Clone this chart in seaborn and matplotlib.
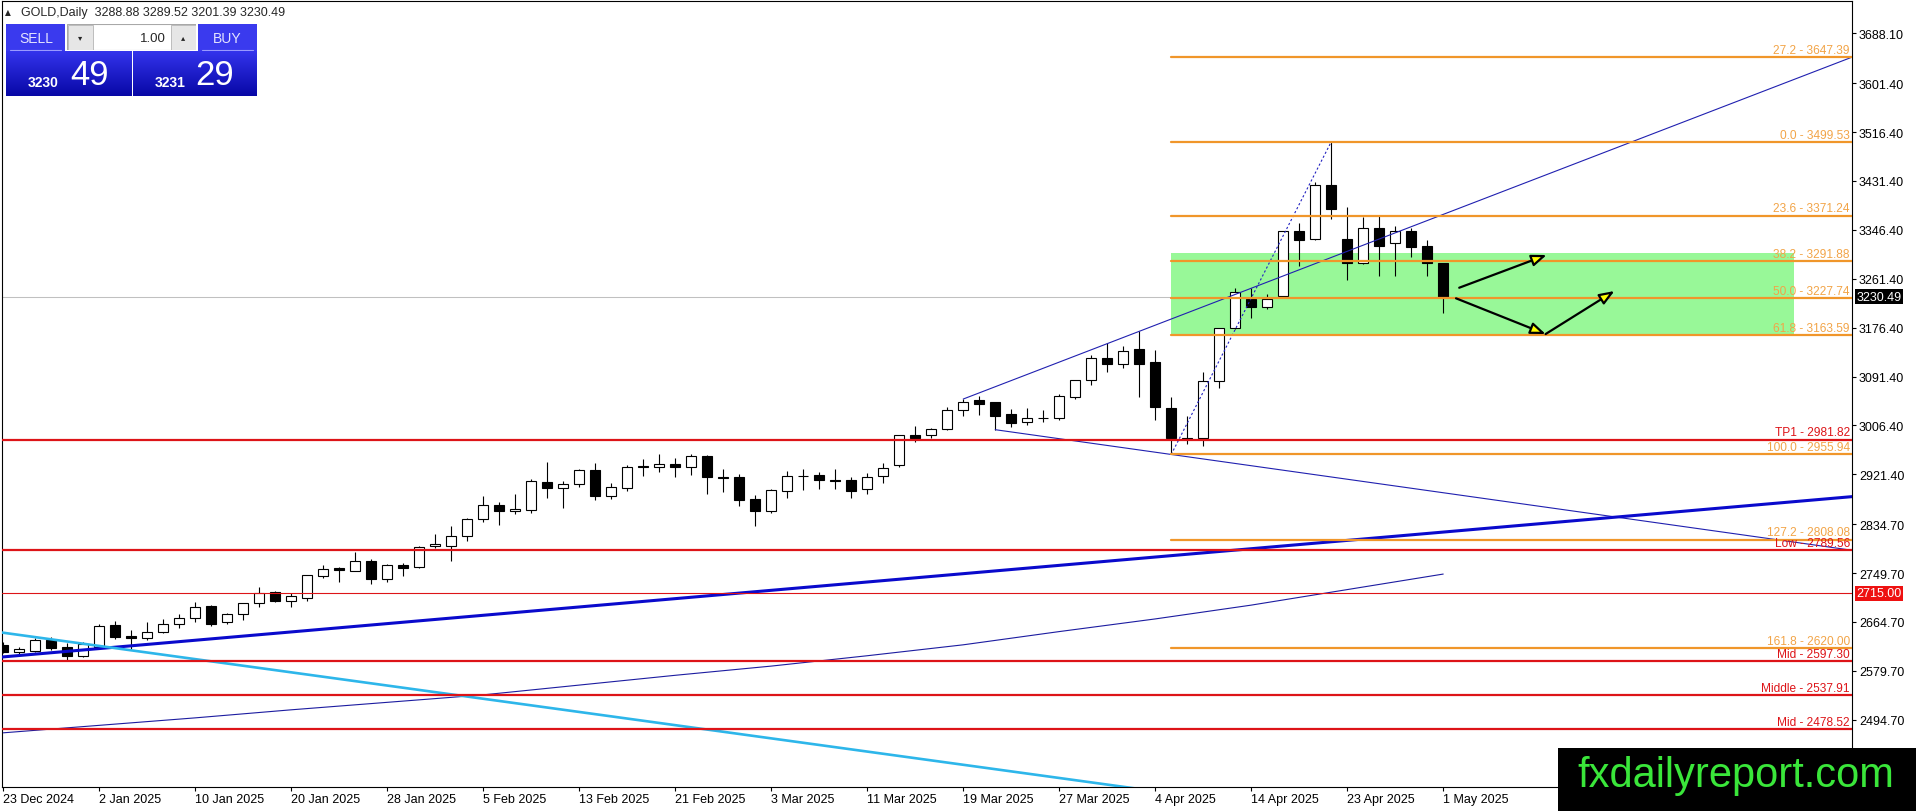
import numpy as np
import pandas as pd
import matplotlib
matplotlib.use("Agg")
import matplotlib.pyplot as plt
import seaborn as sns
from matplotlib.patches import Rectangle
from matplotlib.colors import LinearSegmentedColormap
from matplotlib.transforms import blended_transform_factory

# trading days on the chart, holidays taken out
dates = pd.bdate_range("2024-12-23", "2025-05-01")
dates = dates.drop(pd.to_datetime(["2024-12-25", "2025-01-01", "2025-04-18"]))

opens = [2625, 2613, 2615, 2633, 2621, 2606, 2622, 2659, 2640, 2636,
         2648, 2662, 2672, 2692, 2664, 2678, 2697, 2716, 2702, 2707,
         2745, 2758, 2754, 2771, 2740, 2764, 2760, 2796, 2797, 2815,
         2843, 2868, 2857, 2860, 2908, 2897, 2904, 2929, 2883, 2898,
         2936, 2934, 2939, 2935, 2954, 2916, 2917, 2878, 2857, 2893,
         2919, 2920, 2911, 2912, 2896, 2918, 2938, 2989, 2989, 3001,
         3034, 3051, 3047, 3026, 3012, 3020, 3020, 3055, 3086, 3123,
         3114, 3139, 3117, 3036, 2982, 2984, 3083, 3175, 3227, 3212,
         3232, 3344, 3330, 3424, 3330, 3288, 3349, 3323, 3344, 3318,
         3288.88]
highs = [2630, 2622, 2637, 2638, 2628, 2630, 2661, 2666, 2651, 2664,
         2670, 2678, 2699, 2694, 2680, 2698, 2725, 2719, 2715, 2746,
         2764, 2761, 2786, 2774, 2766, 2767, 2797, 2818, 2831, 2846,
         2883, 2873, 2887, 2913, 2943, 2910, 2931, 2941, 2906, 2938,
         2948, 2956, 2949, 2957, 2955, 2931, 2922, 2885, 2896, 2928,
         2931, 2926, 2930, 2917, 2924, 2941, 2990, 3005, 3002, 3038,
         3052.3, 3057, 3048, 3035, 3036, 3033, 3061, 3085, 3129, 3149,
         3144, 3170, 3137, 3055, 3022, 3100, 3176, 3245, 3245, 3235,
         3345, 3358, 3430, 3499.53, 3387, 3368, 3370, 3353, 3349, 3329,
         3289.52]
lows = [2610, 2609, 2613, 2616, 2596, 2603, 2619, 2635, 2618, 2633,
        2645, 2655, 2664, 2657, 2661, 2669, 2690, 2699, 2690, 2702,
        2741, 2735, 2753, 2730, 2735, 2745, 2758, 2793, 2771, 2806,
        2839, 2834, 2853, 2855, 2880, 2863, 2900, 2877, 2879, 2892,
        2919, 2925, 2916, 2921, 2888, 2891, 2867, 2832, 2855, 2881,
        2895, 2896, 2896, 2880, 2888, 2906, 2934, 2978, 2985, 2999,
        3022, 3025, 2999, 3003, 3007, 3012, 3016, 3053, 3076, 3100,
        3106, 3055, 3015, 2955.94, 2974, 2970, 3071, 3174, 3193, 3209,
        3231, 3284, 3329, 3366, 3260, 3287, 3266, 3267, 3300, 3267,
        3201.39]
closes = [2613, 2617, 2633, 2620, 2606, 2626, 2657, 2639, 2636, 2648,
          2662, 2672, 2690, 2662, 2678, 2697, 2715, 2702, 2709, 2746,
          2757, 2755, 2770, 2739, 2764, 2759, 2795, 2800, 2815, 2843,
          2868, 2857, 2861, 2909, 2897, 2904, 2929, 2883, 2899, 2935,
          2934, 2939, 2935, 2953, 2916, 2915, 2877, 2858, 2894, 2918,
          2918, 2911, 2910, 2893, 2917, 2933, 2989, 2985, 3001, 3034,
          3048, 3044, 3023, 3011, 3020, 3019.5, 3057, 3085, 3123, 3114,
          3135, 3114, 3038, 2984, 2985, 3083, 3175, 3238, 3212, 3227,
          3344, 3328, 3424, 3382, 3288, 3349, 3319, 3344, 3317, 3289,
          3230.49]

# moving average, read every 6th bar
ma_bars = [0, 6, 12, 18, 24, 30, 36, 42, 48, 54, 60, 66, 72, 78, 84, 90]
ma_vals = [2472, 2485, 2498, 2512, 2525, 2538, 2555, 2572, 2588, 2606,
           2625, 2648, 2670, 2694, 2721, 2748]

price_ticks = [3688.10, 3601.40, 3516.40, 3431.40, 3346.40, 3261.40, 3176.40,
               3091.40, 3006.40, 2921.40, 2834.70, 2749.70, 2664.70, 2579.70,
               2494.70]

# fibonacci from the 7 Apr low to the 22 Apr high
fib_low_bar, fib_low = 73, 2955.94
fib_high_bar, fib_high = 83, 3499.53
fib_ratios = [-0.272, 0.0, 0.236, 0.382, 0.5, 0.618, 1.0, 1.272, 1.618]
fib_names = ["27.2", "0.0", "23.6", "38.2", "50.0", "61.8", "100.0", "127.2", "161.8"]

red_names = ["TP1", "Low", "Mid", "Middle", "Mid"]
red_vals = [2981.82, 2789.56, 2597.30, 2537.91, 2478.52]
marked_level = 2715.00

# trend lines: (bar, price) anchors
upper_channel = [(60, 3052.3), (71, 3170.0)]
lower_channel = [(62, 2999.0), (73, 2955.94)]
support_line = [(0, 2604.0), (90, 2821.0)]
cyan_line = [(0, 2646.0), (46, 2470.0)]

zone_bars = (73, 111.9)
zone_prices = (3163.59, 3306.0)

arrows = [((91.0, 3245.8), (96.46, 3302.7)),
          ((90.8, 3227.4), (96.4, 3165.3)),
          ((96.4, 3165.3), (100.7, 3240.1))]

W, H = 1916, 812
sns.set_style("white")
plt.rcParams["font.family"] = ["Liberation Sans", "DejaVu Sans"]

fig = plt.figure(figsize=(W / 100, H / 100), dpi=100)
ax = fig.add_axes([2 / W, 1 - 788 / H, 1850 / W, 786 / H])
xmin, xmax = -0.08, 115.55
ax.set_xlim(xmin, xmax)
ax.set_ylim(2377.8, 3744.3)

x = np.arange(len(dates))
o, h, l, c = map(np.array, (opens, highs, lows, closes))

# bid line and zone behind everything
ax.axhline(c[-1], color="#C0C0C0", lw=0.75, zorder=0.5)
ax.add_patch(Rectangle((zone_bars[0], zone_prices[0]), zone_bars[1] - zone_bars[0],
                       zone_prices[1] - zone_prices[0], fc="#98F898", ec="none", zorder=1))

# candles
ax.vlines(x, l, h, color="black", lw=0.8, zorder=2)
up = c >= o
ax.bar(x[up], c[up] - o[up], bottom=o[up], width=0.62, color="white",
       edgecolor="black", linewidth=0.8, zorder=2.5)
ax.bar(x[~up], c[~up] - o[~up], bottom=o[~up], width=0.62, color="black",
       edgecolor="black", linewidth=0.8, zorder=2.5)

# moving average
sns.lineplot(x=ma_bars, y=ma_vals, ax=ax, color="#1C1CA0", lw=0.8, zorder=3)


def ray(anchors, x0, x1):
    (ax0, ay0), (ax1, ay1) = anchors
    k = (ay1 - ay0) / (ax1 - ax0)
    return [x0, x1], [ay0 + k * (x0 - ax0), ay0 + k * (x1 - ax0)]


xs, ys = ray(upper_channel, upper_channel[0][0], xmax)
ax.plot(xs, ys, color="#2020B0", lw=0.8, zorder=3)
xs, ys = ray(lower_channel, lower_channel[0][0], xmax)
ax.plot(xs, ys, color="#2020B0", lw=0.8, zorder=3)
xs, ys = ray(support_line, xmin - 1, xmax)
ax.plot(xs, ys, color="#0A0ACC", lw=2.2, zorder=3)
xs, ys = ray(cyan_line, xmin - 1, xmax)
ax.plot(xs, ys, color="#2DB6EA", lw=1.9, zorder=3)

# fib lines
ax.plot([fib_low_bar, fib_high_bar], [fib_low, fib_high], color="#2020C0",
        lw=0.8, ls=(0, (2, 2)), zorder=3)
rng = fib_high - fib_low
for name, r in zip(fib_names, fib_ratios):
    lvl = round(fib_high - r * rng, 2)
    ax.plot([fib_low_bar, xmax], [lvl, lvl], color="#F0962A", lw=1.6, zorder=3.2)
    ax.annotate(f"{name} - {lvl:.2f}", xy=(1, lvl), xycoords=("axes fraction", "data"),
                xytext=(-1.5, 0.8), textcoords="offset points", ha="right", va="bottom",
                fontsize=8.6, color="#F2A447", zorder=4)

# red levels
for name, v in zip(red_names, red_vals):
    ax.axhline(v, color="#DD1418", lw=1.6, zorder=3.1)
    ax.annotate(f"{name} - {v:.2f}", xy=(1, v), xycoords=("axes fraction", "data"),
                xytext=(-1.5, 0.8), textcoords="offset points", ha="right", va="bottom",
                fontsize=8.6, color="#DD1418", zorder=4)
ax.axhline(marked_level, color="#DD1418", lw=0.8, zorder=3.1)

# arrows
for (p0, p1) in arrows:
    ax.annotate("", xy=p1, xytext=p0,
                arrowprops=dict(arrowstyle="-|>,head_length=0.9,head_width=0.35",
                                fc="#FFFF00", ec="black", lw=1.6,
                                shrinkA=0, shrinkB=0), zorder=5)

# axes styling
for s in ax.spines.values():
    s.set_color("black")
    s.set_linewidth(0.8)
ax.yaxis.tick_right()
ax.set_yticks(price_ticks)
ax.set_yticklabels([f"{t:.2f}" for t in price_ticks])
ax.tick_params(axis="y", right=True, left=False, length=3, width=0.8, pad=2,
               labelsize=9, colors="black")
tick_bars = list(range(0, len(dates), 6))
ax.set_xticks(tick_bars)
ax.set_xticklabels([f"{dates[i].day} {dates[i].strftime('%b %Y')}" for i in tick_bars],
                   ha="left")
ax.tick_params(axis="x", bottom=True, length=3, width=0.8, pad=1, labelsize=9,
               colors="black")
ax.set_xlabel("")
ax.set_ylabel("")
ax.grid(False)

# price tags on the axis
for val, bg in [(c[-1], "black"), (marked_level, "#EE1111")]:
    ax.annotate(f"{val:.2f}", xy=(1, val), xycoords=("axes fraction", "data"),
                xytext=(3, 0), textcoords="offset points", ha="left", va="center",
                fontsize=9, color="white", annotation_clip=False,
                bbox=dict(boxstyle="square,pad=0.12", fc=bg, ec="none"), zorder=6)

# header
fig.text(5 / W, 1 - 13 / H, "\u25B2", fontsize=5.5, va="center", ha="left",
         family=["DejaVu Sans"])
fig.text(21 / W, 1 - 13 / H,
         f"GOLD,Daily  {o[-1]:.2f} {h[-1]:.2f} {l[-1]:.2f} {c[-1]:.2f}",
         fontsize=9, va="center", ha="left")


# one-click trading panel
def px_axes(x0, y0, x1, y1):
    a = fig.add_axes([x0 / W, 1 - y1 / H, (x1 - x0) / W, (y1 - y0) / H])
    a.set_axis_off()
    return a


blue = LinearSegmentedColormap.from_list("bl", ["#3434EC", "#0707A6"])
grad = np.linspace(0, 1, 64).reshape(-1, 1)
for (x0, x1), (tx0, tx1) in [((6, 131), (6, 65)), ((133, 257), (198, 257))]:
    a = px_axes(x0, 52, x1, 97)
    a.imshow(grad, aspect="auto", cmap=blue, extent=(0, 1, 0, 1))
    a.set_xlim(0, 1)
    a.set_ylim(0, 1)
    b = px_axes(tx0, 25, tx1, 52)
    b.add_patch(Rectangle((0, 0), 1, 1, fc="#3A3AEE", ec="none"))
    b.plot([0.07, 0.93], [0.03, 0.03], color="#9A9AFF", lw=0.8)
    b.set_xlim(0, 1)
    b.set_ylim(0, 1)

sp = px_axes(67, 25, 196, 51)
sp.set_xlim(67, 196)
sp.set_ylim(51, 25)
sp.add_patch(Rectangle((67, 25), 129, 26, fc="white", ec="#A8A8A8", lw=0.8))
sp.add_patch(Rectangle((67.5, 25.5), 25, 25, fc="#E6E6E6", ec="#B4B4B4", lw=0.6))
sp.add_patch(Rectangle((171, 25.5), 24.5, 25, fc="#E6E6E6", ec="#B4B4B4", lw=0.6))
sp.text(80, 38, "\u25BE", ha="center", va="center", fontsize=6, family=["DejaVu Sans"])
sp.text(183, 37.5, "\u25B4", ha="center", va="center", fontsize=6, family=["DejaVu Sans"])
sp.text(166, 38.5, "1.00", ha="right", va="center", fontsize=9.5)

fig.text(36 / W, 1 - 39 / H, "SELL", color="#E4E4FF", fontsize=10, ha="center", va="center")
fig.text(227 / W, 1 - 39 / H, "BUY", color="#E4E4FF", fontsize=10, ha="center", va="center")
fig.text(28 / W, 1 - 87 / H, "3230", color="white", fontsize=10, weight="bold",
         ha="left", va="baseline")
fig.text(70 / W, 1 - 85 / H, "49", color="white", fontsize=25, ha="left", va="baseline")
fig.text(155 / W, 1 - 87 / H, "3231", color="white", fontsize=10, weight="bold",
         ha="left", va="baseline")
fig.text(195 / W, 1 - 85 / H, "29", color="white", fontsize=25, ha="left", va="baseline")

# watermark
fig.add_artist(Rectangle((1558 / W, 0), (W - 1558) / W, (H - 749) / H,
                         transform=fig.transFigure, fc="black", ec="none", zorder=5))
fig.text(1736 / W, 1 - 776 / H, "fxdailyreport.com", color="#3AE63A", fontsize=30,
         ha="center", va="center", zorder=6)

fig.savefig("out.png", dpi=100, facecolor="white")
